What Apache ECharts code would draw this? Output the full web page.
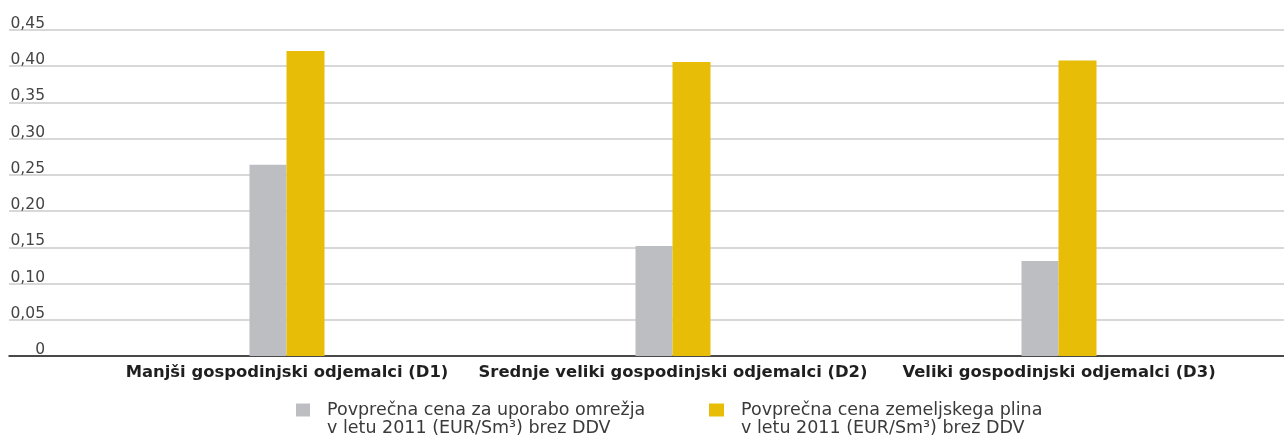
<!DOCTYPE html>
<html>
<head>
<meta charset="utf-8">
<script src="https://cdn.jsdelivr.net/npm/echarts@6/dist/echarts.min.js"></script>
<style>
  html, body { margin: 0; padding: 0; background: #ffffff; }
  #chart { width: 1284px; height: 435px; }
</style>
</head>
<body>
<div id="chart"></div>
<script>
// Customer groups on the x axis
const categories = [
  'Manjši gospodinjski odjemalci (D1)',
  'Srednje veliki gospodinjski odjemalci (D2)',
  'Veliki gospodinjski odjemalci (D3)'
];

// Series names (legend text)
const networkName = 'Povprečna cena za uporabo omrežja\nv letu 2011 (EUR/Sm³) brez DDV';
const gasName = 'Povprečna cena zemeljskega plina\nv letu 2011 (EUR/Sm³) brez DDV';

// Average prices, EUR/Sm³ without VAT
const networkValues = [0.264, 0.152, 0.131];
const gasValues = [0.421, 0.406, 0.408];

// Y axis tick labels (decimal comma)
const yTickLabels = ['0', '0,05', '0,10', '0,15', '0,20', '0,25', '0,30', '0,35', '0,40', '0,45'];

const FONT = '"DejaVu Sans", "Open Sans", sans-serif';
const GREY = '#bdbec2';
const YELLOW = '#e8bd08';

const chart = echarts.init(document.getElementById('chart'), null, { renderer: 'canvas' });

// Legend text is centred on the marker; an empty leading line moves the
// first real line level with the square.
const legendText = {
  fontFamily: FONT,
  fontSize: 17.5,
  color: '#3a3a3a',
  lineHeight: 18,
  padding: [0, 0, 0, 12]
};
const legendLabel = (name) => '\n' + name;

chart.setOption({
  animation: false,
  backgroundColor: '#ffffff',
  textStyle: { fontFamily: FONT },
  grid: [
    { left: 9, right: 0, top: 30, bottom: 79, containLabel: false },
    { left: 94, right: 32, top: 30, bottom: 79, containLabel: false }
  ],
  legend: [
    {
      data: [networkName],
      left: 296, top: 383, padding: 0,
      orient: 'horizontal',
      icon: 'rect', itemWidth: 14, itemHeight: 13,
      formatter: legendLabel,
      textStyle: legendText,
      selectedMode: false
    },
    {
      data: [gasName],
      left: 709, top: 383, padding: 0,
      orient: 'horizontal',
      icon: 'rect', itemWidth: 15, itemHeight: 13,
      formatter: legendLabel,
      textStyle: legendText,
      selectedMode: false
    }
  ],
  xAxis: [
    {
      type: 'category', gridIndex: 0, data: categories,
      axisLine: { show: true, lineStyle: { color: '#1a1a1a', width: 1.5 } },
      axisTick: { show: false },
      axisLabel: { show: false },
      splitLine: { show: false }
    },
    {
      type: 'category', gridIndex: 1, data: categories,
      axisLine: { show: false },
      axisTick: { show: false },
      axisLabel: {
        show: true, margin: 9, interval: 0,
        fontFamily: FONT, fontSize: 16.4, fontWeight: 'bold', color: '#1f1f1f'
      },
      splitLine: { show: false }
    }
  ],
  yAxis: [
    {
      type: 'value', gridIndex: 0, min: 0, max: 0.45, interval: 0.05,
      axisLine: { show: false },
      axisTick: { show: false },
      splitLine: { show: true, lineStyle: { color: '#cbcbcb', width: 1.5 } },
      axisLabel: {
        show: true, inside: true, margin: 36, align: 'right', verticalAlign: 'bottom',
        lineHeight: 12,
        fontFamily: FONT, fontSize: 15.5, color: '#444444',
        formatter: (v, i) => yTickLabels[i]
      }
    },
    {
      type: 'value', gridIndex: 1, min: 0, max: 0.45, interval: 0.05,
      show: false,
      splitLine: { show: false }
    }
  ],
  series: [
    {
      name: networkName, type: 'bar', xAxisIndex: 1, yAxisIndex: 1,
      data: networkValues, barWidth: 37, barGap: '0%',
      itemStyle: { color: GREY }
    },
    {
      name: gasName, type: 'bar', xAxisIndex: 1, yAxisIndex: 1,
      data: gasValues, barWidth: 38, barGap: '0%',
      itemStyle: { color: YELLOW }
    }
  ]
});
</script>
</body>
</html>
